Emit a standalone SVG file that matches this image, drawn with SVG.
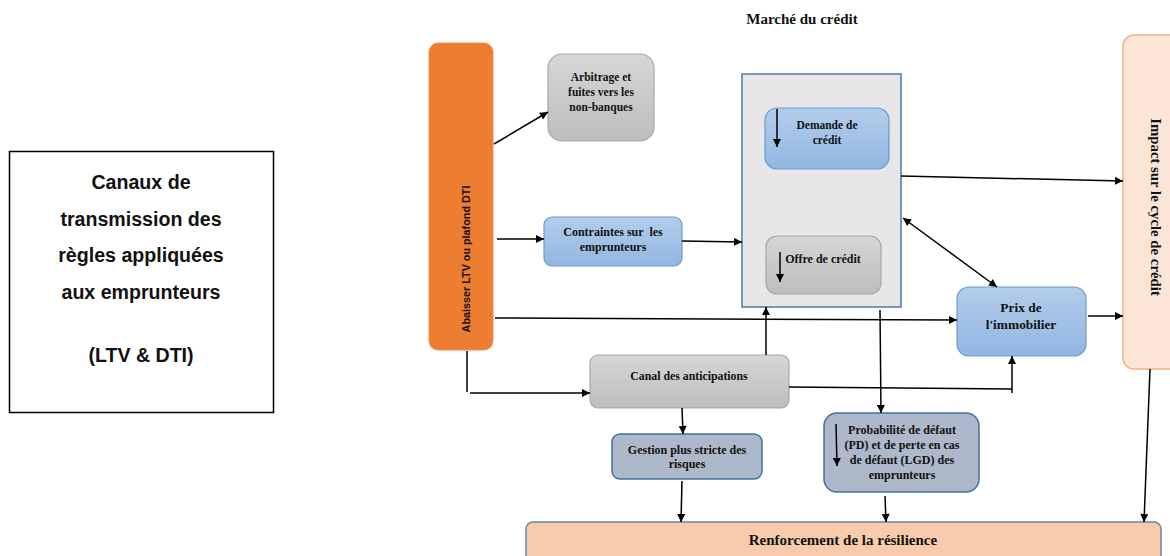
<svg xmlns="http://www.w3.org/2000/svg" width="1170" height="556" viewBox="0 0 1170 556">
<defs>
<linearGradient id="gBlue" x1="0" y1="0" x2="0" y2="1"><stop offset="0" stop-color="#b3cdeb"/><stop offset="1" stop-color="#92b6e2"/></linearGradient>
<linearGradient id="gGray" x1="0" y1="0" x2="0" y2="1"><stop offset="0" stop-color="#d6d6d6"/><stop offset="1" stop-color="#bdbdbd"/></linearGradient>
<marker id="ah" viewBox="0 0 10 10" refX="10" refY="5" markerWidth="10" markerHeight="8" markerUnits="userSpaceOnUse" orient="auto-start-reverse"><path d="M0,0 L10,5 L0,10 z" fill="#000"/></marker>
</defs>
<style>
.t{font-family:"Liberation Serif","Times New Roman",serif;font-weight:bold;fill:#111;text-anchor:middle;white-space:pre}
.blue{fill:url(#gBlue);stroke:#6d9bd1;stroke-width:1.2}
.gray{fill:url(#gGray);stroke:#a8a8a8;stroke-width:1.2}
.slate{fill:#adb9ca;stroke:#41719c;stroke-width:1.5}
.c{fill:none;stroke:#000;stroke-width:1.5}
.a{marker-end:url(#ah)}
</style>
<rect width="1170" height="556" fill="#fff"/>

<g id="title-box">
<rect x="9.5" y="151.5" width="264" height="261" fill="#fff" stroke="#000" stroke-width="1.5"/>
<g font-family="'Liberation Sans',Arial,sans-serif" font-weight="bold" font-size="19.6" text-anchor="middle" fill="#111">
<text x="141" y="189">Canaux de</text>
<text x="141" y="226">transmission des</text>
<text x="141" y="262">règles appliquées</text>
<text x="141" y="299">aux emprunteurs</text>
<text x="141" y="362">(LTV &amp; DTI)</text>
</g>
</g>

<g id="marche-label"><text class="t" x="802" y="24" font-size="15">Marché du crédit</text></g>

<g id="abaisser">
<rect x="429" y="43" width="64" height="307" rx="9" fill="#ed7d31" stroke="#f09050" stroke-width="1"/>
<text transform="translate(470,259) rotate(-90)" font-family="'Liberation Sans',Arial,sans-serif" font-weight="bold" font-size="10.8" text-anchor="middle" fill="#111">Abaisser LTV ou plafond DTI</text>
</g>

<g id="arbitrage">
<rect class="gray" x="548" y="54" width="106" height="87" rx="14"/>
<text class="t" font-size="11.5"><tspan x="601" y="81">Arbitrage et</tspan><tspan x="601" y="96">fuites vers les</tspan><tspan x="601" y="111">non-banques</tspan></text>
</g>

<g id="contraintes">
<rect class="blue" x="544" y="217" width="138" height="49" rx="8"/>
<text class="t" font-size="12"><tspan x="613" y="236">Contraintes sur  les</tspan><tspan x="613" y="251">emprunteurs</tspan></text>
</g>

<g id="marche">
<rect x="742" y="74" width="159" height="233" fill="#e8e6e8" stroke="#4a78a8" stroke-width="1.5"/>
</g>

<g id="demande">
<rect class="blue" x="765" y="108" width="124" height="61" rx="12"/>
<text class="t" font-size="11.5"><tspan x="827" y="129">Demande de</tspan><tspan x="827" y="144">crédit</tspan></text>
<line class="c a" x1="777" y1="109" x2="777" y2="147"/>
</g>

<g id="offre">
<rect class="gray" x="766" y="236" width="115" height="58" rx="11"/>
<text class="t" font-size="12" x="823" y="263">Offre de crédit</text>
<line class="c a" x1="780" y1="252" x2="780" y2="282"/>
</g>

<g id="impact">
<rect x="1123" y="35" width="60" height="334" rx="11" fill="#fbe5d6" stroke="#f4b183" stroke-width="1.5"/>
<text class="t" font-size="14.8" transform="translate(1151,207) rotate(90)">Impact sur le cycle de crédit</text>
</g>

<g id="prix">
<rect class="blue" x="957" y="287" width="129" height="69" rx="12"/>
<text class="t" font-size="13.4"><tspan x="1021" y="312">Prix de</tspan><tspan x="1021" y="329">l'immobilier</tspan></text>
</g>

<g id="canal">
<rect class="gray" x="590" y="355" width="199" height="53" rx="8"/>
<text class="t" font-size="11.8" x="689" y="380">Canal des anticipations</text>
</g>

<g id="gestion">
<rect class="slate" x="612" y="434" width="150" height="45" rx="8"/>
<text class="t" font-size="12"><tspan x="687" y="454">Gestion plus stricte des</tspan><tspan x="687" y="468">risques</tspan></text>
</g>

<g id="pd">
<rect class="slate" x="824" y="413" width="155" height="79" rx="13"/>
<text class="t" font-size="12"><tspan x="902" y="434">Probabilité de défaut</tspan><tspan x="902" y="449">(PD) et de perte en cas</tspan><tspan x="902" y="464">de défaut (LGD) des</tspan><tspan x="902" y="479">emprunteurs</tspan></text>
<line class="c a" x1="836" y1="424" x2="837" y2="466"/>
</g>

<g id="renforcement">
<rect x="526" y="522" width="635" height="40" rx="7" fill="#f8cbad" stroke="#6a86a8" stroke-width="1.5"/>
<text class="t" font-size="15" x="843" y="545">Renforcement de la résilience</text>
</g>

<g id="connectors">
<line class="c a" x1="494" y1="144" x2="548" y2="112"/>
<line class="c a" x1="497" y1="239" x2="544" y2="239"/>
<line class="c a" x1="682" y1="241" x2="742" y2="242"/>
<line class="c a" x1="901" y1="176" x2="1123" y2="181"/>
<line class="c a" x1="903" y1="218" x2="997" y2="287" style="marker-start:url(#ah)"/>
<line class="c a" x1="1088" y1="316" x2="1123" y2="316"/>
<line class="c a" x1="495" y1="318" x2="957" y2="320"/>
<line class="c a" x1="880" y1="310" x2="881" y2="413"/>
<polyline class="c" points="467,351 467,392"/>
<line class="c a" x1="470" y1="393" x2="590" y2="393"/>
<line class="c a" x1="766" y1="355" x2="766" y2="307"/>
<polyline class="c" points="789,387 1012,389"/>
<line class="c a" x1="1012" y1="393" x2="1012" y2="356"/>
<line class="c a" x1="682" y1="408" x2="683" y2="434"/>
<line class="c a" x1="682" y1="481" x2="681" y2="522"/>
<line class="c a" x1="885" y1="496" x2="886" y2="522"/>
<line class="c a" x1="1150" y1="369" x2="1144" y2="522"/>
</g>
</svg>
